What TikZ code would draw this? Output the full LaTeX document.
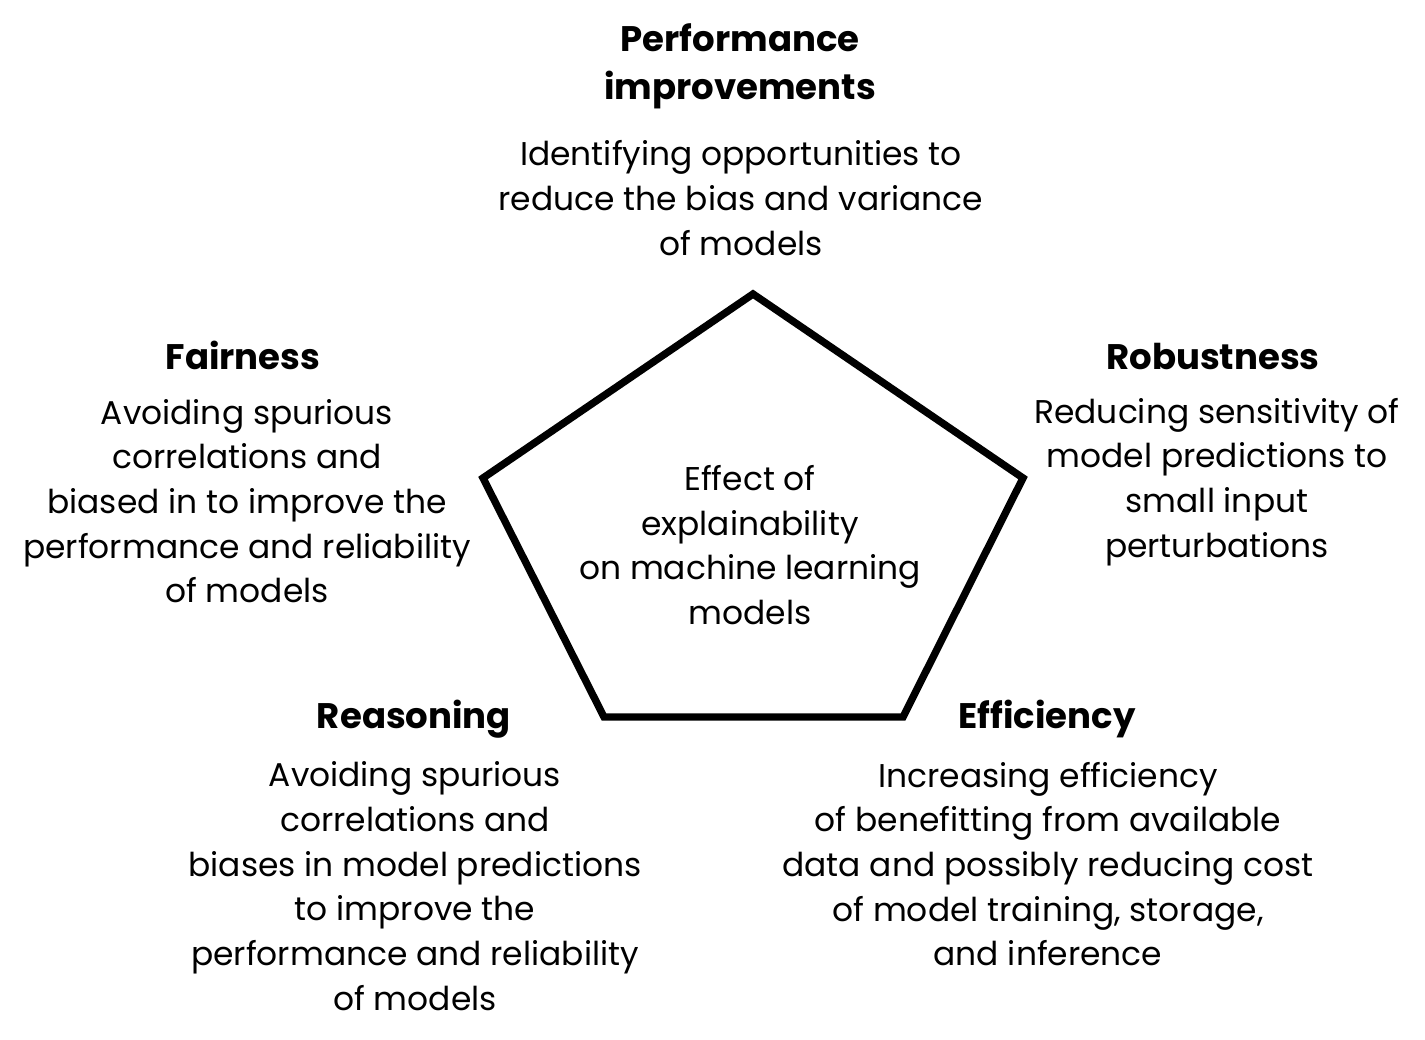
\documentclass[tikz,border=0pt]{standalone}
\usepackage{fontspec}
\setmainfont{Poppins}
\begin{document}
\begin{tikzpicture}[x=0.01cm,y=-0.01cm,
    headtext/.style={font=\fontsize{10.1}{13.6}\selectfont\bfseries,align=center,inner sep=0pt},
    bodytext/.style={font=\fontsize{9.35}{12.7}\selectfont,align=center,inner sep=0pt}]

    \useasboundingbox (0,0) rectangle (1425,1039);

    % Pentagono centrale
    \coordinate (ptop) at (753,294);
    \coordinate (pright) at (1023,478);
    \coordinate (pbr) at (903,717);
    \coordinate (pbl) at (604,717);
    \coordinate (pleft) at (483,478);
    \draw[line width=2.1pt] (ptop) -- (pright) -- (pbr) -- (pbl) -- (pleft) -- cycle;
    \node[bodytext] (effect) at (750,545) {Effect of\\explainability\\on machine learning\\models};

    % Performance improvements
    \node[headtext] (perfhead) at (740,66) {Performance\\improvements};
    \node[bodytext] (perfbody) at (741,198) {Identifying opportunities to\\reduce the bias and variance\\of models};

    % Fairness
    \node[headtext] (fairhead) at (243,355) {Fairness};
    \node[bodytext] (fairbody) at (247,501) {Avoiding spurious\\correlations and\\biased in to improve the\\performance and reliability\\of models};

    % Robustness
    \node[headtext] (robhead) at (1213,356) {Robustness};
    \node[bodytext] (robbody) at (1217,482) {Reducing sensitivity of\\model predictions to\\small input\\perturbations};

    % Reasoning
    \node[headtext] (reashead) at (414,719) {Reasoning};
    \node[bodytext] (reasbody) at (415,886) {Avoiding spurious\\correlations and\\biases in model predictions\\to improve the\\performance and reliability\\of models};

    % Efficiency
    \node[headtext] (effhead) at (1047,719) {Efficiency};
    \node[bodytext] (effbody) at (1048,864) {Increasing efficiency\\of benefitting from available\\data and possibly reducing cost\\of model training, storage,\\and inference};

\end{tikzpicture}
\end{document}
